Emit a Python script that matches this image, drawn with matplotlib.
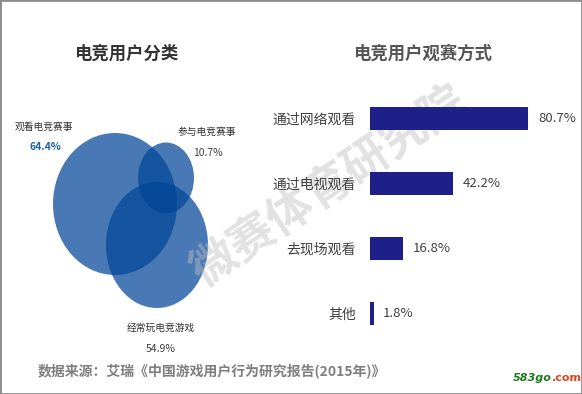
import matplotlib
matplotlib.use("Agg")
import matplotlib.pyplot as plt
from matplotlib.patches import Ellipse, Rectangle

plt.rcParams['font.family'] = ['Noto Sans CJK SC', 'DejaVu Sans']

# data
venn_labels = ['观看电竞赛事', '参与电竞赛事', '经常玩电竞游戏']
venn_values = [64.4, 10.7, 54.9]
bar_labels = ['通过网络观看', '通过电视观看', '去现场观看', '其他']
bar_values = [80.7, 42.2, 16.8, 1.8]

W, H = 582, 394
fig = plt.figure(figsize=(W / 100, H / 100), dpi=100)

# full-figure canvas in pixel coordinates
ax = fig.add_axes([0, 0, 1, 1])
ax.set_xlim(0, W)
ax.set_ylim(H, 0)
ax.axis('off')

ax.text(126, 54, '电竞用户分类', ha='center', va='center', fontsize=12.5,
        fontweight='bold', color='#333333')
ax.text(423, 54, '电竞用户观赛方式', ha='center', va='center', fontsize=12.5,
        fontweight='bold', color='#555555')

# venn-like ellipses (center x, center y, width, height) in pixels
shapes = [(115, 204, 124, 142), (166, 178, 56, 71), (157, 245, 102, 126)]
for cx, cy, w, h in shapes:
    ax.add_patch(Ellipse((cx, cy), w, h, facecolor='#024698', alpha=0.72,
                         edgecolor='none', zorder=2))

name_pos = [(44, 127), (207, 132), (161, 328)]
val_pos = [(45, 147), (208, 153), (161, 349)]
for i in range(3):
    ax.text(*name_pos[i], venn_labels[i], ha='center', va='center',
            fontsize=7, color='#333333', zorder=4)
    if i == 0:
        ax.text(*val_pos[i], f'{venn_values[i]}%', ha='center', va='center',
                fontsize=7.5, color='#1a5fb4', fontweight='bold', zorder=4)
    else:
        ax.text(*val_pos[i], f'{venn_values[i]}%', ha='center', va='center',
                fontsize=7.5, color='#404040', zorder=4)

# watermark
ax.text(330, 188, '微赛体育研究院', ha='center', va='center', rotation=34,
        fontsize=33, fontweight='bold', color='#bfbfbf', alpha=0.45, zorder=5)

# footer
ax.text(38, 371, '数据来源：艾瑞《中国游戏用户行为研究报告(2015年)》',
        ha='left', va='center', fontsize=10, fontweight='bold', color='#7f7f7f')
ax.text(552, 378, '583go', ha='right', va='center', fontsize=8,
        fontweight='bold', style='italic', color='#1b7a1b', family='DejaVu Sans')
ax.text(552, 378, '.com', ha='left', va='center', fontsize=8,
        fontweight='bold', color='#e8401c', family='DejaVu Sans')

# bar chart
bx = fig.add_axes([370 / W, (H - 346) / H, 196 / W, 260 / H])
bx.set_xlim(0, 100)
bx.set_ylim(3.5, -0.5)
ypos = list(range(len(bar_values)))
bx.barh(ypos, bar_values, height=0.354, color='#1f1f89', zorder=3)
for y, v in zip(ypos, bar_values):
    bx.annotate(f'{v}%', (v, y), xytext=(7, 0), textcoords='offset points',
                ha='left', va='center', fontsize=9.5, color='#404040')
bx.set_yticks(ypos)
bx.set_yticklabels(bar_labels, fontsize=10, color='#404040')
bx.tick_params(axis='y', length=0, pad=10)
bx.set_xticks([])
for s in bx.spines.values():
    s.set_visible(False)
bx.patch.set_alpha(0)

# frame
fig.patches.append(Rectangle((0, 0), 1, 1, transform=fig.transFigure,
                             fill=False, edgecolor='#8c8c8c', linewidth=2))

fig.savefig('out.png', dpi=100)
